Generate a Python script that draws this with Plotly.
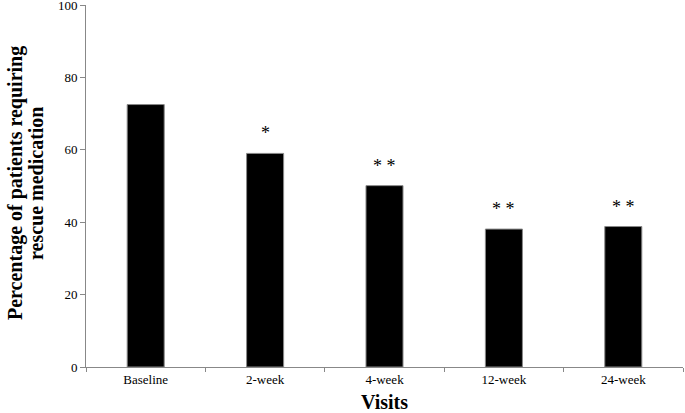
import plotly.graph_objects as go

visits = ["Baseline", "2-week", "4-week", "12-week", "24-week"]
percent = [72.5, 59.0, 50.1, 38.1, 38.8]
signif = ["", "*", "* *", "* *", "* *"]
y_ticks = [0, 20, 40, 60, 80, 100]
y_title_lines = ["Percentage of patients requiring", "rescue medication"]

FONT = "Liberation Serif, Times New Roman, serif"

fig = go.Figure()
fig.add_trace(go.Bar(
    x=visits, y=percent,
    marker=dict(color="black", line=dict(color="#888888", width=1)),
    width=0.31,
    showlegend=False,
))

for v, p, s in zip(visits, percent, signif):
    if s:
        fig.add_annotation(x=v, y=p, text=s, showarrow=False, yanchor="bottom",
                           yshift=8, font=dict(family=FONT, size=18, color="black"))

for line, shift in zip(y_title_lines, [-71, -50]):
    fig.add_annotation(xref="paper", yref="paper", x=0, y=0.5, xshift=shift, yshift=3,
                       text="<b>" + line + "</b>", textangle=-90, showarrow=False,
                       xanchor="center", yanchor="middle",
                       font=dict(family=FONT, size=20, color="black"))

fig.update_layout(
    width=685, height=413,
    margin=dict(l=86, r=2, t=5, b=46),
    plot_bgcolor="white", paper_bgcolor="white",
    font=dict(family=FONT, color="black"),
    xaxis=dict(
        automargin=False,
        showline=True, linecolor="#888888", linewidth=1,
        ticks="outside", ticklen=4, tickcolor="#888888", tickson="boundaries",
        tickfont=dict(family=FONT, size=13, color="black"),
        title=dict(text="<b>Visits</b>", font=dict(family=FONT, size=20, color="black"), standoff=11),
        showgrid=False, zeroline=False,
    ),
    yaxis=dict(
        automargin=False,
        range=[0, 100], tickvals=y_ticks, ticklabeloverflow="allow",
        showline=True, linecolor="#888888", linewidth=1,
        ticks="outside", ticklen=5, tickcolor="#888888",
        tickfont=dict(family=FONT, size=13, color="black"),
        showgrid=False, zeroline=False,
    ),
)

fig.write_html("out.html", config={"displayModeBar": False},
               post_script="document.body.style.margin='0';")
